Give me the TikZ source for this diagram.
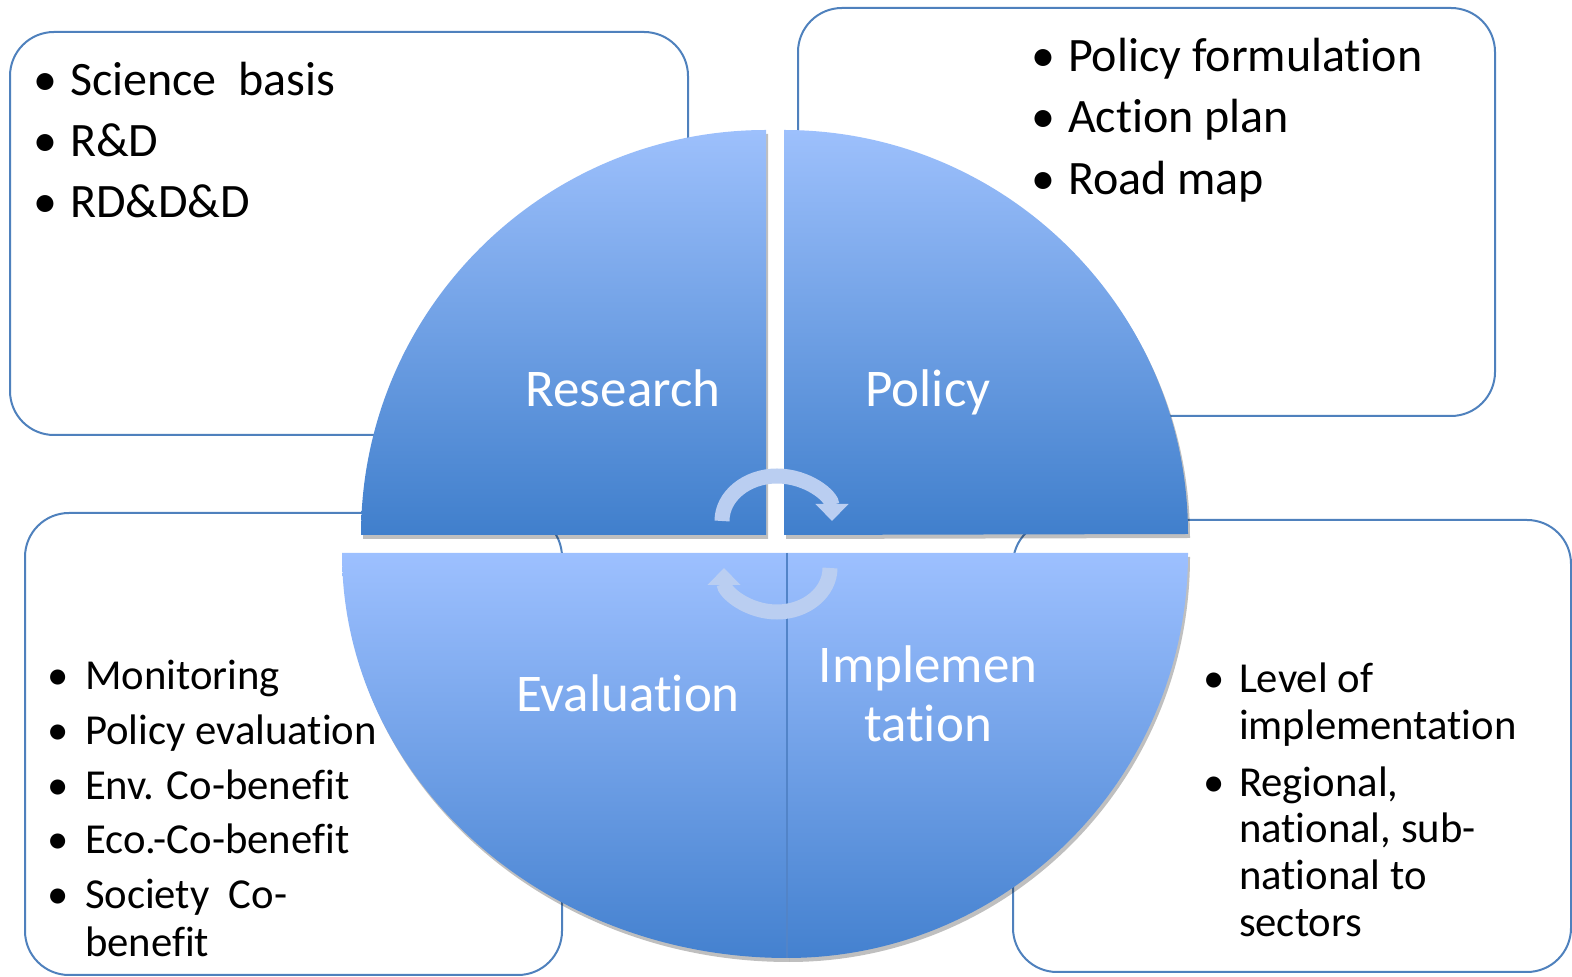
\documentclass[tikz,border=0pt]{standalone}
\usepackage{fontspec}
\setmainfont[Ligatures=NoCommon]{Carlito}
\usetikzlibrary{arrows.meta,shadows}
\definecolor{boxblue}{RGB}{79,129,189}
\definecolor{qtoplight}{RGB}{157,192,252}
\definecolor{qtopdark}{RGB}{64,127,204}
\definecolor{qbotlight}{RGB}{157,192,255}
\definecolor{qbotdark}{RGB}{68,129,207}
\definecolor{divline}{RGB}{82,132,200}
\definecolor{arrowblue}{RGB}{186,206,241}
\begin{document}
\begin{tikzpicture}[x=1pt,y=1pt,
  box/.style={draw=boxblue,line width=2pt,rounded corners=44pt,fill=white,inner sep=0pt,outer sep=0pt},
  quad/.style={drop shadow={shadow xshift=2pt,shadow yshift=-4pt,opacity=0.25,fill=black}},
  topq/.style={quad,top color=qtoplight,bottom color=qtopdark},
  botq/.style={quad,top color=qbotlight,bottom color=qbotdark},
  bigtxt/.style={font=\fontsize{48}{56}\selectfont},
  smalltxt/.style={font=\fontsize{42.7}{48}\selectfont},
  item/.style={anchor=base west,inner sep=0pt,outer sep=0pt},
  bul/.style={anchor=base,inner sep=0pt,outer sep=0pt},
  lab/.style={anchor=base,inner sep=0pt,text=white,font=\fontsize{53}{59}\selectfont},
  cyc/.style={draw=arrowblue,line width=15pt,-{Triangle[length=17pt,width=32pt]}}
]
\useasboundingbox (0,0) rectangle (1572,977);

% boxes
\node[box,minimum width=678pt,minimum height=403pt] (b1) at (349,743.5) {};
\node[box,minimum width=697pt,minimum height=408pt] (b2) at (1146.5,765) {};
\node[box,minimum width=537pt,minimum height=462pt] (b3) at (293.5,233) {};
\node[box,minimum width=558pt,minimum height=452pt] (b4) at (1292,231) {};

% quadrants
\path[topq] (766,442) -- (361,442) arc[start angle=180,end angle=90,radius=405] -- cycle;
\path[topq] (784,442) -- (784,847) arc[start angle=90,end angle=0,radius=404] -- cycle;
\path[botq] (787,424) -- (342,424) arc[start angle=180,end angle=270,x radius=445,y radius=405] -- cycle;
\path[botq] (787,424) -- (1188,424) arc[start angle=0,end angle=-90,x radius=401,y radius=405] -- cycle;
\draw[divline,line width=1.5pt] (787,424) -- (787,19);

% cycle arrows
\draw[cyc] (722,456) arc[start angle=180,end angle=0,x radius=55,y radius=45];
\draw[cyc] (830,409) arc[start angle=0,end angle=-180,x radius=53,y radius=44];

% labels
\node[lab] (lres) at (623,570) {Research};
\node[lab] (lpol) at (928,570) {Policy};
\node[lab] (leva) at (628,265) {Evaluation};
\node[lab] (limp1) at (928,294) {Implemen};
\node[lab] (limp2) at (928,235) {tation};

% box 1 text
\node[bul,bigtxt] (u11) at (45.5,881) {•};
\node[item,bigtxt] (t11) at (70,881) {Science\ \ basis};
\node[bul,bigtxt] (u12) at (45.5,820) {•};
\node[item,bigtxt] (t12) at (70,820) {R\&D};
\node[bul,bigtxt] (u13) at (45.5,759) {•};
\node[item,bigtxt] (t13) at (70,759) {RD\&D\&D};

% box 2 text
\node[bul,bigtxt] (u21) at (1043,905) {•};
\node[item,bigtxt] (t21) at (1068,905) {Policy formulation};
\node[bul,bigtxt] (u22) at (1043,844) {•};
\node[item,bigtxt] (t22) at (1068,844) {Action plan};
\node[bul,bigtxt] (u23) at (1043,782) {•};
\node[item,bigtxt] (t23) at (1068,782) {Road map};

% box 3 text
\node[bul,smalltxt] (u31) at (58,287) {•};
\node[item,smalltxt] (t31) at (85,287) {Monitoring};
\node[bul,smalltxt] (u32) at (58,232) {•};
\node[item,smalltxt] (t32) at (85,232) {Policy evaluation};
\node[bul,smalltxt] (u33) at (58,177) {•};
\node[item,smalltxt] (t33) at (85,177) {Env. Co-benefit};
\node[bul,smalltxt] (u34) at (58,123) {•};
\node[item,smalltxt] (t34) at (85,123) {Eco.-Co-benefit};
\node[bul,smalltxt] (u35) at (58,68) {•};
\node[item,smalltxt] (t35) at (85,68) {Society\ \ Co-};
\node[item,smalltxt] (t36) at (85,20) {benefit};

% box 4 text
\node[bul,smalltxt] (u41) at (1214,284) {•};
\node[item,smalltxt] (t41) at (1239,284) {Level of};
\node[item,smalltxt] (t42) at (1239,237) {implementation};
\node[bul,smalltxt] (u43) at (1214,180) {•};
\node[item,smalltxt] (t43) at (1239,180) {Regional,};
\node[item,smalltxt] (t44) at (1239,134) {national, sub-};
\node[item,smalltxt] (t45) at (1239,87) {national to};
\node[item,smalltxt] (t46) at (1239,40) {sectors};
\end{tikzpicture}
\end{document}
